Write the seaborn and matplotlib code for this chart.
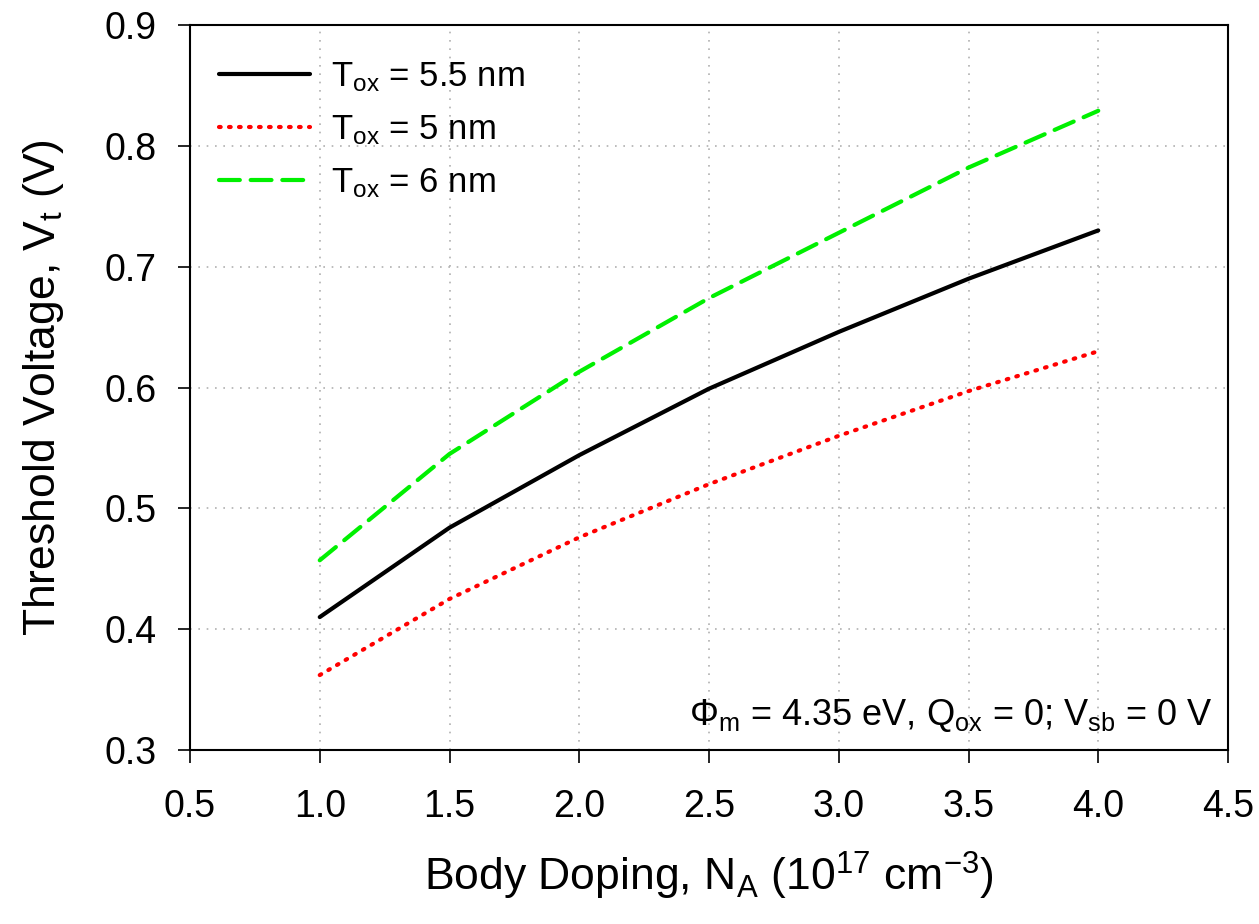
import matplotlib
matplotlib.use("Agg")
import matplotlib.pyplot as plt
import seaborn as sns
import pandas as pd

doping = [1.0, 1.5, 2.0, 2.5, 3.0, 3.5, 4.0]
vt_55 = [0.410, 0.484, 0.544, 0.599, 0.646, 0.690, 0.730]
vt_5 = [0.362, 0.425, 0.476, 0.520, 0.560, 0.597, 0.630]
vt_6 = [0.457, 0.545, 0.613, 0.674, 0.728, 0.782, 0.829]
labels = [r"T$_{\rm ox}$ = 5.5 nm", r"T$_{\rm ox}$ = 5 nm", r"T$_{\rm ox}$ = 6 nm"]
xticks = [0.5, 1.0, 1.5, 2.0, 2.5, 3.0, 3.5, 4.0, 4.5]
yticks = [0.3, 0.4, 0.5, 0.6, 0.7, 0.8, 0.9]

sns.set_style("white")
plt.rcParams["font.family"] = ["Liberation Sans", "DejaVu Sans"]
plt.rcParams["mathtext.fontset"] = "custom"
plt.rcParams["mathtext.rm"] = "Liberation Sans"
plt.rcParams["mathtext.it"] = "Liberation Sans:italic"
plt.rcParams["mathtext.default"] = "rm"
plt.rcParams["text.color"] = "black"
plt.rcParams["axes.labelcolor"] = "black"
plt.rcParams["xtick.color"] = "black"
plt.rcParams["ytick.color"] = "black"

fig = plt.figure(figsize=(12.59, 9.24), dpi=100)
ax = fig.add_axes([190 / 1259, 1 - 750 / 924, (1228 - 190) / 1259, (750 - 25) / 924])

styles = [("black", None), ("#ff0000", (0, (0.4, 2.0))), ("#00f000", (0, (5, 2.6)))]
for vals, lab, (col, dash) in zip([vt_55, vt_5, vt_6], labels, styles):
    df = pd.DataFrame({"x": doping, "y": vals})
    sns.lineplot(data=df, x="x", y="y", ax=ax, color=col, label=lab, linewidth=3)
for line, (col, dash) in zip(ax.get_lines(), styles):
    if dash is not None:
        line.set_linestyle(dash)
        line.set_dash_capstyle("round")

ax.set_xlim(0.5, 4.5)
ax.set_ylim(0.3, 0.9)
ax.set_xticks(xticks)
ax.set_xticklabels([f"{v:.1f}" for v in xticks])
ax.set_yticks(yticks)
ax.set_yticklabels([f"{v:.1f}" for v in yticks])
ax.tick_params(axis="both", labelsize=27, direction="out", length=9, width=1.2,
               color="black", bottom=True, left=True)
ax.tick_params(axis="x", pad=19)
ax.tick_params(axis="y", pad=15)
ax.grid(True, linestyle=(0, (1, 4)), color="#b0b0b0", linewidth=1.2)
for sp in ax.spines.values():
    sp.set_visible(True)
    sp.set_color("black")
    sp.set_linewidth(1.5)

ax.set_xlabel(r"Body Doping, N$_{\rm A}$ (10$^{17}$ cm$^{-3}$)", fontsize=32, labelpad=18)
ax.set_ylabel(r"Threshold Voltage, V$_{\rm t}$ (V)", fontsize=32, labelpad=28)

leg = ax.legend(loc="upper left", fontsize=25, frameon=False, handlelength=2.6,
                handletextpad=0.6, labelspacing=0.55, borderaxespad=0.0,
                bbox_to_anchor=(0.015, 0.97))
for h in leg.get_lines():
    h.set_linewidth(3)

ax.text(0.985, 0.022, r"Φ$_{\rm m}$ = 4.35 eV, Q$_{\rm ox}$ = 0; V$_{\rm sb}$ = 0 V",
        transform=ax.transAxes, ha="right", va="bottom", fontsize=26)

fig.savefig("out.png", dpi=100)
